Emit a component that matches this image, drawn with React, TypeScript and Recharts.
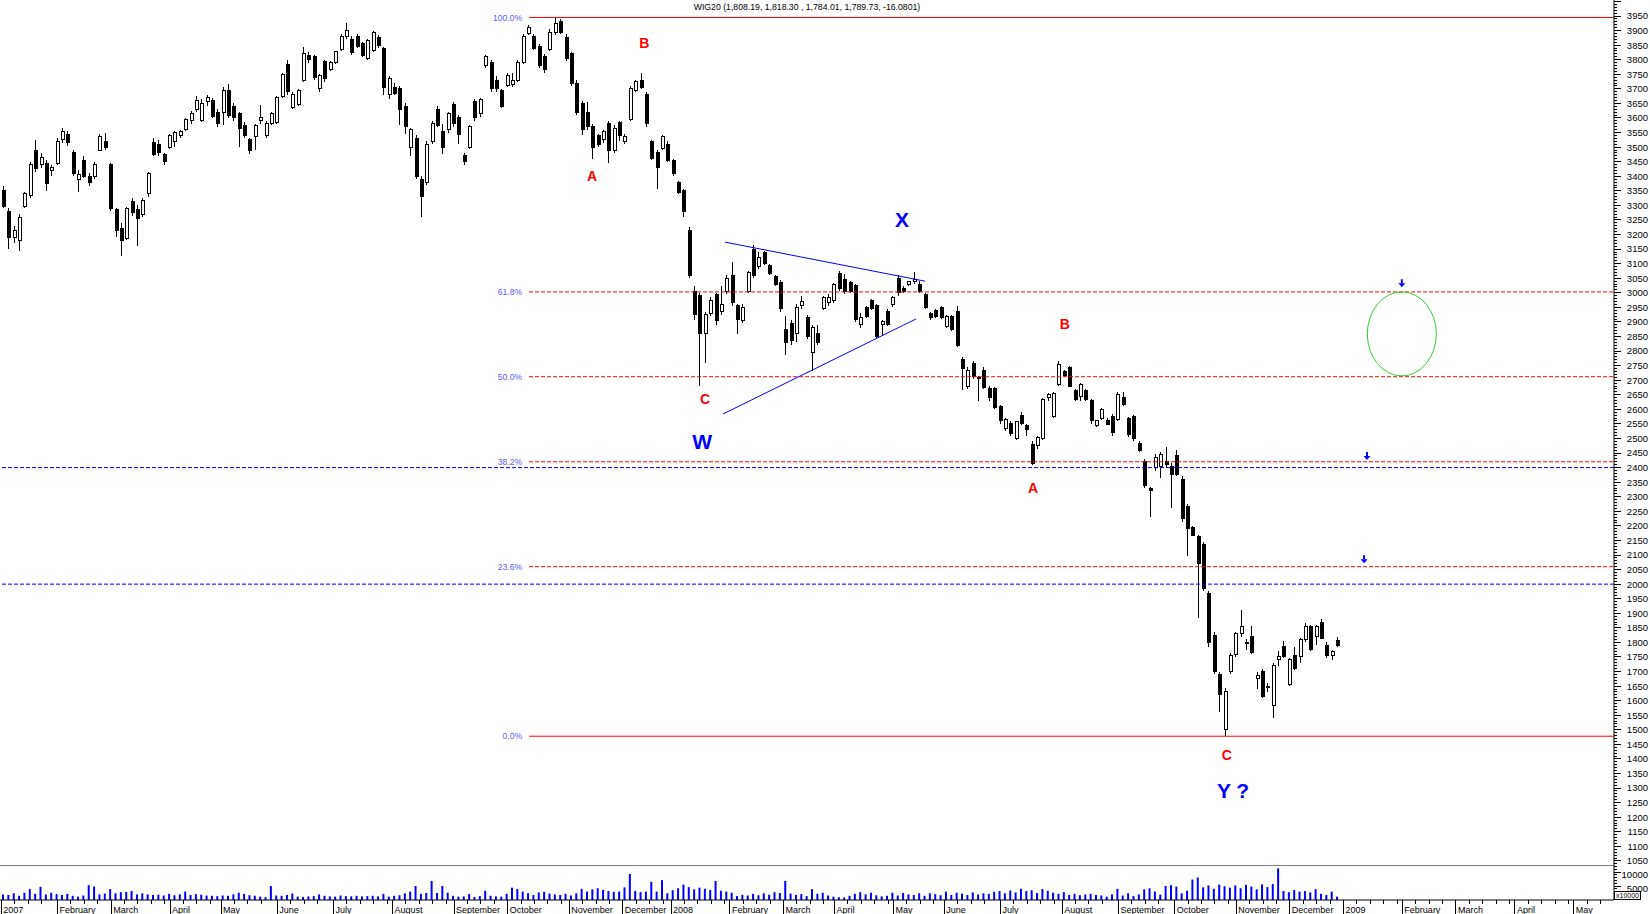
import { Bar, ComposedChart, ReferenceDot, ReferenceLine, XAxis, YAxis } from "recharts";

// WIG20 candles, one per two sessions: [open, high, low, close]
const candles2007a: number[][] = [
  [3350, 3365, 3290, 3295], [3280, 3290, 3150, 3190], [3190, 3230, 3170, 3215], [3180, 3270, 3145, 3260],
  [3295, 3345, 3290, 3340], [3335, 3450, 3325, 3440], [3490, 3525, 3415, 3425], [3440, 3480, 3430, 3465],
  [3445, 3455, 3350, 3375], [3420, 3440, 3400, 3430], [3445, 3530, 3440, 3520], [3525, 3565, 3515, 3555],
  [3545, 3555, 3505, 3515], [3480, 3490, 3400, 3410], [3390, 3420, 3345, 3405], [3455, 3470, 3395, 3400],
  [3400, 3410, 3365, 3380], [3400, 3450, 3390, 3440], [3490, 3545, 3485, 3535], [3520, 3548, 3490, 3500],
  [3440, 3445, 3280, 3290], [3285, 3290, 3190, 3215], [3220, 3240, 3125, 3180], [3185, 3295, 3180, 3290],
  [3315, 3325, 3265, 3275], [3285, 3300, 3160, 3255], [3270, 3325, 3260, 3318], [3340, 3415, 3330, 3410],
  [3515, 3530, 3470, 3475], [3510, 3525, 3470, 3480], [3475, 3480, 3440, 3450], [3500, 3545, 3495, 3540],
  [3520, 3555, 3500, 3550], [3540, 3560, 3530, 3552], [3560, 3600, 3555, 3595], [3590, 3625, 3580, 3615],
  [3630, 3675, 3620, 3660], [3590, 3665, 3585, 3650], [3655, 3680, 3640, 3670], [3660, 3670, 3600, 3605],
  [3620, 3630, 3570, 3580], [3620, 3705, 3575, 3695], [3695, 3715, 3600, 3610], [3640, 3650, 3590, 3600],
  [3615, 3620, 3500, 3565], [3575, 3585, 3530, 3540], [3525, 3530, 3475, 3490], [3535, 3580, 3490, 3575],
  [3590, 3645, 3580, 3600], [3540, 3590, 3530, 3580], [3580, 3620, 3575, 3615], [3585, 3675, 3580, 3670],
  [3675, 3755, 3670, 3748], [3785, 3800, 3680, 3690], [3635, 3690, 3630, 3680], [3645, 3700, 3640, 3695],
  [3730, 3845, 3725, 3820], [3815, 3825, 3790, 3800], [3810, 3815, 3730, 3740], [3700, 3750, 3690, 3745],
  [3795, 3800, 3725, 3735], [3765, 3795, 3760, 3790], [3790, 3830, 3785, 3828], [3835, 3890, 3830, 3880],
  [3880, 3925, 3870, 3900], [3870, 3880, 3815, 3825], [3880, 3890, 3840, 3845], [3855, 3860, 3810, 3815],
  [3805, 3870, 3800, 3865], [3830, 3900, 3825, 3895], [3875, 3885, 3840, 3850],
];

const candles2007b: number[][] = [
  [3840, 3845, 3680, 3705], [3680, 3745, 3665, 3735], [3705, 3720, 3680, 3685], [3700, 3710, 3575, 3630],
  [3640, 3650, 3545, 3570], [3500, 3565, 3470, 3560], [3530, 3540, 3390, 3400], [3390, 3400, 3260, 3330],
  [3380, 3520, 3370, 3510], [3520, 3590, 3510, 3580], [3630, 3640, 3570, 3575], [3555, 3580, 3475, 3500],
  [3560, 3620, 3550, 3615], [3645, 3655, 3570, 3580], [3600, 3610, 3510, 3545], [3470, 3480, 3440, 3450],
  [3500, 3575, 3495, 3570], [3655, 3665, 3590, 3600], [3615, 3670, 3605, 3665], [3780, 3815, 3770, 3810],
  [3790, 3800, 3690, 3700], [3730, 3745, 3690, 3700], [3695, 3700, 3635, 3640], [3710, 3755, 3705, 3745],
  [3715, 3755, 3705, 3730], [3730, 3800, 3725, 3790], [3790, 3890, 3785, 3880], [3890, 3920, 3885, 3910],
  [3880, 3890, 3835, 3840], [3845, 3855, 3770, 3780], [3810, 3820, 3755, 3765], [3835, 3905, 3830, 3895],
  [3895, 3945, 3885, 3925], [3930, 3940, 3890, 3895], [3875, 3890, 3795, 3805], [3820, 3825, 3710, 3720],
  [3720, 3730, 3610, 3620], [3650, 3660, 3540, 3560], [3620, 3655, 3560, 3570], [3570, 3580, 3460, 3500],
  [3540, 3545, 3500, 3510], [3525, 3560, 3515, 3555], [3580, 3590, 3445, 3490], [3490, 3575, 3480, 3565],
  [3585, 3590, 3520, 3540], [3520, 3545, 3510, 3535], [3595, 3710, 3590, 3700], [3695, 3730, 3690, 3725],
  [3730, 3755, 3700, 3705], [3680, 3690, 3570, 3580], [3520, 3525, 3455, 3460], [3480, 3490, 3355, 3430],
  [3495, 3540, 3490, 3535], [3510, 3520, 3450, 3455], [3455, 3460, 3400, 3410], [3380, 3385, 3340, 3345],
  [3350, 3355, 3260, 3280], [3215, 3225, 3050, 3060], [3005, 3025, 2905, 2925], [2990, 3000, 2680, 2860],
  [2860, 2935, 2760, 2925], [2930, 2985, 2920, 2975], [2995, 3000, 2890, 2905], [2935, 3025, 2925, 2960],
  [3005, 3060, 2995, 3050], [3060, 3105, 2955, 2965], [2955, 2960, 2860, 2910], [2905, 2960, 2895, 2950],
  [3005, 3075, 3000, 3070], [3150, 3165, 3050, 3060], [3090, 3140, 3080, 3120], [3140, 3145, 3095, 3100],
  [3095, 3100, 3060, 3065], [3055, 3060, 3025, 3030],
];

const candles2008a: number[][] = [
  [3035, 3045, 2935, 2945], [2875, 2920, 2785, 2830], [2895, 2905, 2820, 2835], [2860, 2960, 2830, 2950],
  [2955, 2990, 2945, 2970], [2915, 2925, 2840, 2850], [2795, 2890, 2730, 2880], [2860, 2890, 2820, 2830],
  [2945, 2990, 2940, 2985], [2965, 2995, 2955, 2985], [2975, 3035, 2965, 3030], [3065, 3075, 3005, 3015],
  [3045, 3065, 2995, 3005], [3035, 3040, 3000, 3005], [3025, 3030, 2900, 2910], [2890, 2930, 2880, 2915],
  [2950, 2955, 2915, 2920], [2975, 2980, 2940, 2945], [2955, 2960, 2845, 2850], [2890, 2905, 2855, 2900],
  [2935, 2945, 2885, 2890], [2960, 2990, 2950, 2985], [3050, 3060, 2990, 3000], [3015, 3025, 3000, 3005],
  [3030, 3040, 3025, 3038], [3040, 3070, 3030, 3045], [3030, 3040, 3000, 3005], [2995, 3000, 2945, 2950],
  [2930, 2935, 2905, 2915], [2940, 2945, 2915, 2918], [2950, 2955, 2910, 2915], [2885, 2925, 2880, 2920],
  [2920, 2925, 2870, 2875], [2935, 2955, 2815, 2820], [2770, 2780, 2665, 2740], [2680, 2745, 2670, 2735],
  [2758, 2765, 2705, 2712], [2705, 2715, 2630, 2710], [2735, 2745, 2670, 2675], [2670, 2680, 2630, 2640],
  [2670, 2675, 2600, 2605], [2610, 2615, 2550, 2560], [2535, 2570, 2525, 2565], [2552, 2560, 2510, 2518],
  [2500, 2560, 2495, 2557], [2580, 2590, 2545, 2550], [2545, 2550, 2510, 2530], [2480, 2490, 2410, 2415],
  [2475, 2510, 2465, 2505], [2500, 2640, 2495, 2635], [2640, 2655, 2630, 2650], [2575, 2660, 2570, 2655],
  [2685, 2765, 2680, 2755], [2730, 2735, 2710, 2715], [2745, 2750, 2675, 2680], [2665, 2670, 2630, 2635],
  [2645, 2690, 2630, 2685], [2665, 2670, 2630, 2635], [2630, 2635, 2550, 2560], [2545, 2565, 2540, 2560],
];

const candles2008b: number[][] = [
  [2570, 2605, 2565, 2600], [2563, 2570, 2545, 2548], [2575, 2585, 2510, 2520], [2565, 2660, 2560, 2650],
  [2640, 2660, 2610, 2615], [2570, 2575, 2505, 2512], [2575, 2580, 2490, 2500], [2483, 2490, 2455, 2460],
  [2420, 2428, 2330, 2340], [2330, 2335, 2230, 2320], [2400, 2445, 2390, 2435], [2405, 2455, 2365, 2445],
  [2420, 2470, 2400, 2410], [2405, 2415, 2260, 2375], [2440, 2460, 2370, 2375], [2360, 2370, 2215, 2225],
  [2265, 2275, 2095, 2190], [2196, 2200, 2165, 2168], [2165, 2170, 1885, 2070], [2135, 2145, 1975, 1985],
  [1968, 1975, 1785, 1800], [1825, 1835, 1690, 1700], [1690, 1700, 1560, 1620], [1500, 1645, 1480, 1630],
  [1700, 1765, 1690, 1755], [1760, 1835, 1750, 1830], [1830, 1910, 1820, 1855], [1795, 1810, 1775, 1800],
  [1820, 1855, 1760, 1765], [1676, 1700, 1640, 1688], [1700, 1710, 1610, 1615], [1645, 1660, 1630, 1650],
  [1585, 1730, 1540, 1720], [1740, 1770, 1720, 1750], [1785, 1805, 1745, 1750], [1655, 1745, 1650, 1740],
  [1755, 1785, 1705, 1710], [1750, 1815, 1730, 1810], [1810, 1865, 1800, 1855], [1855, 1860, 1770, 1775],
  [1820, 1860, 1790, 1855], [1870, 1880, 1810, 1815], [1790, 1800, 1745, 1755], [1755, 1775, 1740, 1770],
  [1808, 1818, 1784, 1790],
];

// volume, x10000, one value per candle
const vol2007 = [
  2000, 1800, 2400, 1500, 2600, 3900, 2200, 4700, 2000, 2600,
  2100, 1800, 2200, 1500, 1200, 1600, 5300, 4800, 2000, 2300,
  3900, 2400, 2800, 2900, 3200, 2000, 2400, 2000, 1800, 1900, 1600,
  2200, 1700, 2000, 3000, 1800, 2100, 1900, 1600, 1500, 1400,
  1600, 1500, 2000, 2600, 2200, 1700, 1500, 1200, 1000, 5000,
  1600, 1500, 1800, 2300, 1200, 1100, 1300, 1400, 2000, 1500, 1300,
  1200, 1600, 1400, 1300, 1500, 1300, 1400, 1500, 1300, 2200, 1200,
  1500, 1700, 2400, 3000, 5000, 2200, 2500, 6800, 2500, 5000, 2600,
  1500, 1200, 1300, 2100, 1100, 1400, 3300, 1500, 1300, 1200,
  2200, 4400, 3900, 3000, 2400, 1800, 2700, 2900, 2300, 2000, 1800, 2200,
  1600, 2400, 4000, 3000, 3800, 4200, 3600, 3200, 2900, 3000,
  4500, 9300, 3200, 2800, 3000, 6500, 3000, 7100, 2400,
];
const vol2008 = [
  3500, 4200, 5500, 4600, 3800, 4400, 4000, 3600, 6800, 3300, 3000,
  2600, 1400, 1800, 1600, 2200, 1700, 2400, 1900, 2800, 2500,
  6800, 2300, 1800, 2100, 1400, 3900, 2200, 2600, 1600,
  1200, 1000, 900, 1500, 2200, 2800, 2000, 2600, 1700, 1300, 1500,
  2600, 1600, 2500, 2000, 1800, 2400, 1500, 2400, 2100, 1700,
  3000, 1800, 2600, 2300, 1800, 2700, 2000, 2400, 2200, 2900,
  3200, 2400, 3400, 2700, 4000, 3200, 3500, 2500, 3900, 3300, 2600, 2200,
  2800, 1800, 2200, 1700, 2000, 2200, 1800, 1600, 1200, 2000,
  4000, 1600, 2400, 1400, 2000, 3800, 4200, 3000, 1900, 5000, 5300,
  4800, 2400, 3300, 7300, 8000, 4500, 5200, 4000, 5500, 4900, 4400,
  5200, 4200, 5400, 4800, 3800, 5600, 4600, 5700, 11300, 3200,
  2800, 3600, 3000, 3200, 2700, 3900, 2200, 1800, 3000, 1200,
];

// session index of each month start
const monthTicks = [0, 21, 41, 63, 82, 103, 124, 146, 169, 189, 212, 232, 250, 272, 292, 311, 333, 352, 373, 396, 417, 438, 461, 481, 501, 523, 543, 565, 587];
const monthLabels = [
  "2007", "February", "March", "April", "May", "June", "July", "August", "September", "October", "November", "December",
  "2008", "February", "March", "April", "May", "June", "July", "August", "September", "October", "November", "December",
  "2009", "February", "March", "April", "May",
];

const fibLevels = [3945, 3003, 2712, 2420, 2060, 1478];
const fibLabels = ["100.0%", "61.8%", "50.0%", "38.2%", "23.6%", "0.0%"];
const blueLevels = [2400, 2000];

const waveText = ["B", "A", "C", "W", "X", "B", "A", "C", "Y ?"];
const waveAt = [[240, 3857], [220.5, 3401], [262.7, 2635], [261.6, 2491], [336.2, 3253], [397, 2893], [385.1, 2330], [457.5, 1413], [459.8, 1293]];
const waveDegree = [0, 0, 0, 1, 1, 0, 0, 0, 1];

const triangleUpper = [[270.1, 3174], [344.8, 3040]];
const triangleLower = [[269.4, 2584], [341.4, 2910]];
const targetZone = [522.8, 2859];
const arrowsAt = [[522.8, 3019], [509.8, 2426], [508.7, 2072]];

const X_DOMAIN: [number, number] = [-0.5, 602];
const FIB_START = 197;
const TOP_LABEL = 3950;

const allCandles = [...candles2007a, ...candles2007b, ...candles2008a, ...candles2008b];
const allVol = [...vol2007, ...vol2008];
const data = allCandles.map(([o, h, l, c], k) => ({ t: 2 * k + 0.5, o, h, l, c, v: allVol[k] }));

const priceTicks: number[] = [];
for (let p = 1040; p <= 4000; p += 10) priceTicks.push(p);
const volTicks = [1000, 2000, 3000, 4000, 5000, 6000, 7000, 8000, 9000, 10000, 11000, 12000];

const timeTicks: number[] = [];
monthTicks.forEach((m, i) => {
  const next = monthTicks[i + 1] ?? X_DOMAIN[1];
  timeTicks.push(m);
  for (let t = m + 5; t < next - 1; t += 5) timeTicks.push(t);
});

function Candle(props: any) {
  const { x, y, width, height, payload } = props;
  const { o, h, l, c } = payload;
  const top0 = Math.min(y, y + height);
  const hgt = Math.abs(height);
  const span = h - l || 1;
  const py = (v: number) => top0 + ((h - v) / span) * hgt;
  const cx = Math.round(x + width / 2) + 0.5;
  const bTop = py(Math.max(o, c));
  const bBot = py(Math.min(o, c));
  const up = c >= o;
  return (
    <g shapeRendering="crispEdges">
      <line x1={cx} x2={cx} y1={top0} y2={top0 + hgt} stroke="#000" />
      <rect x={cx - 1.5} y={bTop} width={3} height={Math.max(bBot - bTop, 1)} fill={up ? "#fff" : "#000"} stroke="#000" />
    </g>
  );
}

function PriceTick({ x, y, payload }: any) {
  const v = payload.value;
  const major = v % 50 === 0;
  return (
    <g>
      <line x1={x} x2={x + (major ? 7 : 3)} y1={y} y2={y} stroke="#000" shapeRendering="crispEdges" />
      {major && v <= TOP_LABEL && (
        <text x={x + 34} y={y} dy={3.4} textAnchor="end" fontSize={9.5} fill="#000">
          {v}
        </text>
      )}
    </g>
  );
}

function VolTick({ x, y, payload }: any) {
  const v = payload.value;
  const major = v % 5000 === 0;
  return (
    <g>
      <line x1={x} x2={x + (major ? 7 : 3)} y1={y} y2={y} stroke="#000" shapeRendering="crispEdges" />
      {major && (
        <text x={x + 34} y={y} dy={6.4} textAnchor="end" fontSize={9.5} fill="#000">
          {v}
        </text>
      )}
    </g>
  );
}

function TimeTick({ x, y, payload }: any) {
  const i = monthTicks.indexOf(payload.value);
  if (i < 0) return <line x1={x} x2={x} y1={y} y2={y + 4} stroke="#000" shapeRendering="crispEdges" />;
  return (
    <g>
      <line x1={x} x2={x} y1={y} y2={y + 14} stroke="#000" shapeRendering="crispEdges" />
      <text x={x + 2} y={y + 12.5} fontSize={9} fill="#000">
        {monthLabels[i]}
      </text>
    </g>
  );
}

const waveStyle = [
  { fill: "#ff0000", fontSize: 14 },
  { fill: "#0000ff", fontSize: 21 },
];

export default function App() {
  return (
    <div
      style={{
        position: "absolute",
        left: 0,
        top: 0,
        width: 1650,
        height: 914,
        background: "#fff",
        fontFamily: '"Liberation Sans", Arial, sans-serif',
        overflow: "hidden",
      }}
    >
      <div style={{ position: "absolute", left: 0, top: 1.5, width: 1614, textAlign: "center", fontSize: 8.7, lineHeight: "10px", color: "#000" }}>
        WIG20 (1,808.19, 1,818.30 , 1,784.01, 1,789.73, -16.0801)
      </div>

      <div style={{ position: "absolute", left: 0, top: 0 }}>
        <ComposedChart width={1650} height={865} data={data} margin={{ top: 0, right: 0, bottom: 0, left: 0 }}>
          <XAxis type="number" dataKey="t" domain={X_DOMAIN} allowDataOverflow hide />
          <YAxis
            orientation="right"
            width={36}
            domain={[1036, 4005]}
            allowDataOverflow
            ticks={priceTicks}
            interval={0}
            tickSize={0}
            tickMargin={0}
            tickLine={false}
            axisLine={{ stroke: "#000" }}
            tick={<PriceTick />}
          />
          {blueLevels.map((b) => (
            <ReferenceLine key={b} y={b} stroke="#0000ff" strokeDasharray="4 2" />
          ))}
          {fibLevels.map((f, i) => (
            <ReferenceLine
              key={f}
              segment={[{ x: FIB_START, y: f }, { x: X_DOMAIN[1], y: f }]}
              stroke="#ff0000"
              strokeDasharray={i === 0 || i === fibLevels.length - 1 ? undefined : "4 2"}
              label={{ value: fibLabels[i], position: "left", offset: 7, fill: "#5a5aff", fontSize: 8.6 }}
            />
          ))}
          <ReferenceLine segment={triangleUpper.map(([x, y]) => ({ x, y }))} stroke="#0000ff" />
          <ReferenceLine segment={triangleLower.map(([x, y]) => ({ x, y }))} stroke="#0000ff" />
          <Bar dataKey={(d: any) => [d.l, d.h]} barSize={4} shape={<Candle />} isAnimationActive={false} />
          {waveText.map((txt, i) => (
            <ReferenceDot
              key={i}
              x={waveAt[i][0]}
              y={waveAt[i][1]}
              shape={(p: any) => (
                <text
                  x={p.cx}
                  y={p.cy}
                  textAnchor="middle"
                  dominantBaseline="central"
                  fontWeight="bold"
                  fontFamily='"Liberation Sans", Arial, sans-serif'
                  {...waveStyle[waveDegree[i]]}
                >
                  {txt}
                </text>
              )}
            />
          ))}
          <ReferenceDot
            x={targetZone[0]}
            y={targetZone[1]}
            shape={(p: any) => <ellipse cx={p.cx} cy={p.cy} rx={34.5} ry={42} fill="none" stroke="#33cc33" />}
          />
          {arrowsAt.map(([ax, ay], i) => (
            <ReferenceDot
              key={`arr${i}`}
              x={ax}
              y={ay}
              shape={(p: any) => (
                <g fill="#0000ff">
                  <rect x={p.cx - 1} y={p.cy - 8} width={2} height={4} />
                  <path d={`M${p.cx - 3.5},${p.cy - 4} L${p.cx + 3.5},${p.cy - 4} L${p.cx},${p.cy} Z`} />
                </g>
              )}
            />
          ))}
        </ComposedChart>
      </div>

      <div style={{ position: "absolute", left: 0, top: 865 }}>
        <ComposedChart width={1650} height={49} data={data} margin={{ top: 0, right: 0, bottom: 0, left: 0 }}>
          <XAxis
            type="number"
            dataKey="t"
            domain={X_DOMAIN}
            allowDataOverflow
            ticks={timeTicks}
            interval={0}
            height={14}
            tickSize={0}
            tickMargin={0}
            tickLine={false}
            axisLine={{ stroke: "#000" }}
            tick={<TimeTick />}
          />
          <YAxis
            orientation="right"
            width={36}
            domain={[0, 12500]}
            allowDataOverflow
            ticks={volTicks}
            interval={0}
            tickSize={0}
            tickMargin={0}
            tickLine={false}
            axisLine={{ stroke: "#000" }}
            tick={<VolTick />}
          />
          <ReferenceLine y={12500} stroke="#000" />
          <Bar dataKey="v" fill="#0000ff" barSize={2} isAnimationActive={false} />
        </ComposedChart>
      </div>

      <div
        style={{
          position: "absolute",
          left: 1614,
          top: 891,
          width: 25,
          height: 7,
          border: "1px solid #000",
          background: "#fff",
          fontSize: 7,
          lineHeight: "7px",
          textAlign: "center",
          color: "#000",
        }}
      >
        x10000
      </div>
    </div>
  );
}
